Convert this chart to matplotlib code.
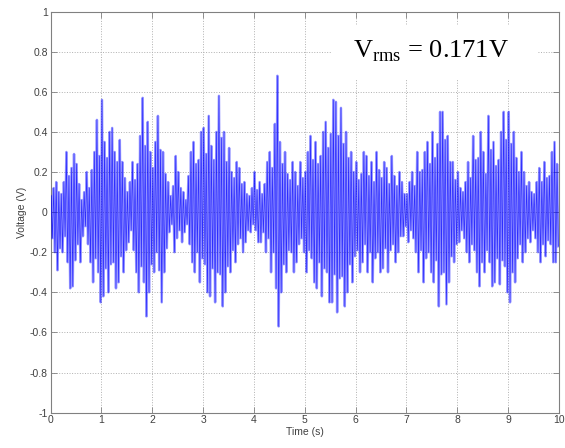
import numpy as np
import matplotlib
matplotlib.use("Agg")
import matplotlib.pyplot as plt
from matplotlib.patches import Rectangle

# Positive peaks of the recorded signal, read every 0.05 s (V)
peaks_pos = [
    0.08, 0.12, 0.15, 0.10, 0.09, 0.15, 0.30, 0.18, 0.22, 0.29, 0.24, 0.14, 0.06, 0.10, 0.20, 0.12, 0.21, 0.30, 0.46, 0.28,
    0.56, 0.35, 0.27, 0.40, 0.42, 0.30, 0.25, 0.36, 0.25, 0.17, 0.10, 0.15, 0.25, 0.16, 0.24, 0.38, 0.57, 0.33, 0.45, 0.30,
    0.22, 0.35, 0.48, 0.31, 0.30, 0.19, 0.15, 0.08, 0.13, 0.28, 0.20, 0.12, 0.10, 0.06, 0.18, 0.30, 0.35, 0.24, 0.26, 0.40,
    0.42, 0.29, 0.48, 0.33, 0.26, 0.40, 0.58, 0.37, 0.40, 0.25, 0.32, 0.20, 0.17, 0.25, 0.22, 0.14, 0.15, 0.09, 0.08, 0.12,
    0.20, 0.11, 0.15, 0.09, 0.14, 0.25, 0.30, 0.22, 0.44, 0.68, 0.35, 0.24, 0.30, 0.19, 0.16, 0.25, 0.20, 0.13, 0.25, 0.17,
    0.20, 0.30, 0.38, 0.26, 0.35, 0.24, 0.28, 0.40, 0.45, 0.32, 0.39, 0.56, 0.55, 0.38, 0.52, 0.34, 0.40, 0.27, 0.30, 0.20,
    0.25, 0.16, 0.19, 0.30, 0.28, 0.18, 0.25, 0.15, 0.30, 0.21, 0.17, 0.25, 0.22, 0.14, 0.28, 0.18, 0.13, 0.20, 0.15, 0.09,
    0.09, 0.15, 0.20, 0.13, 0.30, 0.20, 0.21, 0.30, 0.35, 0.24, 0.40, 0.27, 0.34, 0.50, 0.50, 0.36, 0.38, 0.25, 0.25, 0.16,
    0.20, 0.12, 0.10, 0.15, 0.25, 0.17, 0.38, 0.26, 0.27, 0.40, 0.30, 0.19, 0.48, 0.31, 0.35, 0.23, 0.26, 0.40, 0.50, 0.36,
    0.50, 0.34, 0.40, 0.27, 0.20, 0.30, 0.20, 0.13, 0.15, 0.10, 0.09, 0.15, 0.22, 0.15, 0.25, 0.17, 0.18, 0.30, 0.35, 0.24,
]
# Negative peaks of the recorded signal, read every 0.05 s (V)
peaks_neg = [
    -0.13, -0.20, -0.29, -0.18, -0.20, -0.12, -0.25, -0.38, -0.37, -0.24, -0.16, -0.25, -0.12, -0.07, -0.16, -0.25, -0.35, -0.23, -0.30, -0.45,
    -0.42, -0.28, -0.40, -0.26, -0.25, -0.38, -0.35, -0.22, -0.30, -0.19, -0.15, -0.09, -0.19, -0.30, -0.40, -0.27, -0.35, -0.52, -0.40, -0.26,
    -0.30, -0.20, -0.29, -0.45, -0.30, -0.18, -0.10, -0.06, -0.20, -0.13, -0.09, -0.15, -0.10, -0.06, -0.16, -0.25, -0.30, -0.20, -0.35, -0.23,
    -0.26, -0.40, -0.42, -0.28, -0.45, -0.30, -0.31, -0.47, -0.40, -0.27, -0.30, -0.19, -0.25, -0.16, -0.13, -0.20, -0.15, -0.09, -0.10, -0.06,
    -0.09, -0.15, -0.15, -0.10, -0.20, -0.13, -0.30, -0.20, -0.38, -0.57, -0.40, -0.26, -0.30, -0.19, -0.20, -0.30, -0.25, -0.16, -0.13, -0.20,
    -0.30, -0.19, -0.23, -0.35, -0.38, -0.25, -0.42, -0.28, -0.30, -0.45, -0.45, -0.31, -0.50, -0.33, -0.32, -0.47, -0.40, -0.26, -0.35, -0.22,
    -0.19, -0.30, -0.25, -0.16, -0.30, -0.20, -0.35, -0.23, -0.20, -0.30, -0.28, -0.18, -0.30, -0.19, -0.16, -0.25, -0.20, -0.12, -0.12, -0.07,
    -0.15, -0.09, -0.13, -0.20, -0.30, -0.19, -0.35, -0.23, -0.20, -0.30, -0.35, -0.24, -0.47, -0.31, -0.30, -0.46, -0.35, -0.22, -0.25, -0.16,
    -0.15, -0.09, -0.13, -0.20, -0.25, -0.16, -0.19, -0.30, -0.37, -0.25, -0.30, -0.19, -0.25, -0.37, -0.35, -0.23, -0.36, -0.24, -0.27, -0.40,
    -0.45, -0.30, -0.35, -0.23, -0.16, -0.25, -0.20, -0.13, -0.15, -0.09, -0.13, -0.20, -0.25, -0.16, -0.22, -0.14, -0.16, -0.25, -0.25, -0.17,
]
peak_spacing = 0.05  # s
x_ticks = [0, 1, 2, 3, 4, 5, 6, 7, 8, 9, 10]
y_ticks = [-1, -0.8, -0.6, -0.4, -0.2, 0, 0.2, 0.4, 0.6, 0.8, 1]
y_tick_labels = ["-1", "-0.8", "-0.6", "-0.4", "-0.2", "0", "0.2", "0.4", "0.6", "0.8", "1"]
annotation = r"V$_{\mathrm{rms}}$ = 0.171V"

n = len(peaks_pos)
t = np.empty(2 * n)
v = np.empty(2 * n)
t[0::2] = np.arange(n) * peak_spacing + 0.0125
t[1::2] = np.arange(n) * peak_spacing + 0.0375
v[0::2] = peaks_pos
v[1::2] = peaks_neg

plt.rcParams['mathtext.fontset'] = 'custom'
plt.rcParams['mathtext.rm'] = 'Liberation Serif'

fig = plt.figure(figsize=(5.65, 4.48), dpi=100)
ax = fig.add_axes([0.0894, 0.079, 0.8999, 0.895])

ax.plot(t, v, color='#0000ff', lw=1.8, alpha=0.4, zorder=3)
ax.plot(t, v, color='#0000ff', lw=0.5, alpha=0.7, zorder=3)

ax.set_xlim(0, 10)
ax.set_ylim(-1, 1)
ax.set_xticks(x_ticks)
ax.set_yticks(y_ticks)
ax.set_yticklabels(y_tick_labels)
ax.set_axisbelow(True)
ax.grid(True, linestyle=':', color='#b0b0b0', lw=0.7)
ax.tick_params(direction='in', top=True, right=True, length=4, width=0.6,
               colors='#808080', labelcolor='#404040', labelsize=7.5, pad=2)
for lab in ax.get_xticklabels() + ax.get_yticklabels():
    lab.set_family('Liberation Sans')
for s in ax.spines.values():
    s.set_color('#808080')
    s.set_linewidth(0.8)

ax.set_xlabel('Time (s)', family='Liberation Sans', fontsize=7.5, color='#404040', labelpad=1)
ax.set_ylabel('Voltage (V)', family='Liberation Sans', fontsize=7.5, color='#404040', labelpad=2)

ax.add_patch(Rectangle((5.54, 0.66), 4.05, 0.275, facecolor='white', edgecolor='none', zorder=4))
ax.text(5.95, 0.80, annotation, family='Liberation Serif', fontsize=19,
        va='center', ha='left', zorder=5)

fig.savefig('out.png', dpi=100)
